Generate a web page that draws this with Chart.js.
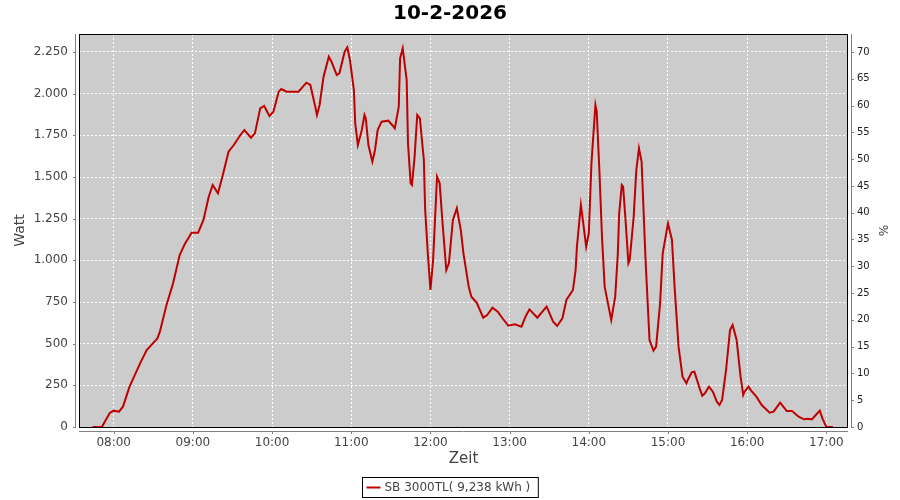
<!DOCTYPE html>
<html>
<head>
<meta charset="utf-8">
<script src="https://cdn.jsdelivr.net/npm/chart.js@4/dist/chart.umd.min.js"></script>
<style>
  body { margin: 0; background: #fff; }
  #wrap { width: 900px; height: 500px; }
</style>
</head>
<body>
<div id="wrap"><canvas id="myChart"></canvas></div>
<script>
var chartTitle = '10-2-2026';
var seriesLabel = 'SB 3000TL( 9,238 kWh )';

var times = ['07:44','07:51','07:57','08:00','08:04','08:07','08:12','08:20','08:25','08:30',
  '08:33','08:35','08:40','08:45','08:50','08:54','08:59','09:04','09:08','09:12',
  '09:15','09:19','09:23','09:27','09:31','09:36','09:39','09:44','09:47','09:51',
  '09:54','09:58','10:01','10:05','10:07','10:11','10:20','10:26','10:29','10:33',
  '10:34','10:36','10:39','10:43','10:45','10:49','10:51','10:55','10:57','10:59',
  '11:02','11:03','11:05','11:08','11:10','11:11','11:13','11:16','11:18','11:20',
  '11:23','11:28','11:31','11:33','11:36','11:37','11:39','11:42','11:43','11:45',
  '11:46','11:48','11:50','11:52','11:55','11:56','11:58','12:00','12:02','12:05',
  '12:07','12:09','12:12','12:14','12:17','12:20','12:23','12:25','12:29','12:31',
  '12:35','12:40','12:43','12:47','12:51','12:55','12:59','13:04','13:09','13:12',
  '13:15','13:21','13:28','13:33','13:36','13:40','13:43','13:48','13:50','13:51',
  '13:54','13:55','13:58','14:00','14:02','14:05','14:06','14:08','14:10','14:12',
  '14:15','14:17','14:20','14:22','14:23','14:25','14:26','14:28','14:30','14:31',
  '14:34','14:36','14:38','14:40','14:43','14:46','14:49','14:51','14:54','14:56',
  '15:00','15:03','15:05','15:08','15:11','15:14','15:15','15:18','15:20','15:24',
  '15:26','15:28','15:31','15:34','15:37','15:39','15:41','15:44','15:47','15:49',
  '15:52','15:55','15:57','15:58','16:01','16:03','16:07','16:11','16:17','16:20',
  '16:25','16:30','16:34','16:39','16:43','16:46','16:49','16:52','16:55','16:57',
  '17:00','17:05'];

var watts = [0,0,84,98,92,122,242,382,462,505,
  530,572,732,862,1032,1100,1166,1166,1242,1382,
  1452,1402,1522,1652,1692,1752,1782,1736,1762,1912,
  1926,1866,1892,2012,2028,2012,2012,2066,2052,1912,
  1872,1932,2102,2222,2192,2112,2122,2252,2278,2202,
  2022,1822,1692,1782,1872,1852,1692,1592,1662,1782,
  1832,1838,1812,1792,1922,2212,2272,2082,1702,1462,
  1452,1622,1872,1852,1602,1302,1042,822,1000,1502,
  1462,1242,942,982,1242,1312,1182,1042,842,782,
  746,656,672,716,692,648,608,616,602,662,
  706,656,722,632,606,652,762,822,942,1082,
  1332,1272,1082,1162,1582,1932,1892,1542,1142,842,
  722,642,782,1042,1282,1452,1442,1222,982,1002,
  1262,1542,1672,1592,1002,522,458,482,742,1042,
  1222,1122,842,482,302,262,282,328,332,232,
  188,202,242,212,152,132,162,342,582,612,
  522,302,192,212,242,218,182,132,86,92,
  146,96,96,62,46,50,46,72,98,52,
  0,0];

// axis ranges (minutes of the day / watt / percent)
var xMin = 453.7, xMax = 1036.4;
var wattMax = 2358;
var pctMax = 2358 / 2250 * 70;

function toMin(s) {
  var p = s.split(':');
  return parseInt(p[0], 10) * 60 + parseInt(p[1], 10);
}
function fmtTime(v) {
  var h = Math.floor(v / 60), m = Math.round(v % 60);
  return (h < 10 ? '0' : '') + h + ':' + (m < 10 ? '0' : '') + m;
}
function fmtDe(v) {
  return String(v).replace(/\B(?=(\d{3})+(?!\d))/g, '.');
}

var points = times.map(function (t, i) { return { x: toMin(t), y: watts[i] }; });
var lineColor = '#bf0000';

var plotDecor = {
  id: 'plotDecor',
  beforeDraw: function (chart) {
    var a = chart.chartArea, c = chart.ctx;
    c.save();
    c.fillStyle = '#cccccc';
    c.fillRect(a.left, a.top, a.right - a.left, a.bottom - a.top);
    c.restore();
  },
  afterDraw: function (chart) {
    var a = chart.chartArea, c = chart.ctx;
    c.save();
    // plot outline
    c.strokeStyle = '#000';
    c.lineWidth = 1;
    c.strokeRect(a.left + 0.5, a.top + 0.5, a.right - a.left - 1, a.bottom - a.top);
    // offset axis lines
    c.strokeStyle = '#808080';
    c.beginPath();
    c.moveTo(a.left - 3.5, a.top); c.lineTo(a.left - 3.5, a.bottom + 1);
    c.moveTo(a.left, a.bottom + 4.5); c.lineTo(a.right, a.bottom + 4.5);
    c.moveTo(a.right + 3.5, a.top); c.lineTo(a.right + 3.5, a.bottom + 1);
    var sy = chart.scales.y, sx = chart.scales.x, sp = chart.scales.y1;
    sy.ticks.forEach(function (t) {
      var p = Math.round(sy.getPixelForValue(t.value)) + 0.5;
      c.moveTo(a.left - 3.5, p); c.lineTo(a.left - 6, p);
    });
    sp.ticks.forEach(function (t) {
      var p = Math.round(sp.getPixelForValue(t.value)) + 0.5;
      c.moveTo(a.right + 3.5, p); c.lineTo(a.right + 6, p);
    });
    sx.ticks.forEach(function (t) {
      var p = Math.round(sx.getPixelForValue(t.value)) + 0.5;
      c.moveTo(p, a.bottom + 4.5); c.lineTo(p, a.bottom + 7);
    });
    c.stroke();
    // legend box
    c.font = '12px "DejaVu Sans"';
    var tw = c.measureText(seriesLabel).width;
    var bw = tw + 30, bx = Math.round(450 - bw / 2) + 0.5, by = 477.5;
    c.strokeStyle = '#000';
    c.strokeRect(bx, by, bw, 20);
    c.strokeStyle = lineColor;
    c.lineWidth = 2;
    c.beginPath();
    c.moveTo(bx + 4, by + 10); c.lineTo(bx + 18, by + 10);
    c.stroke();
    c.fillStyle = '#444';
    c.textBaseline = 'middle';
    c.fillText(seriesLabel, bx + 22, by + 10.5);
    c.restore();
  }
};

var ctx = document.getElementById('myChart').getContext('2d');
var myChart = new Chart(ctx, {
  type: 'line',
  data: {
    datasets: [{
      label: seriesLabel,
      data: points,
      borderColor: lineColor,
      backgroundColor: lineColor,
      borderWidth: 2,
      pointRadius: 0,
      tension: 0,
      yAxisID: 'y'
    }]
  },
  options: {
    responsive: true,
    maintainAspectRatio: false,
    animation: false,
    layout: { padding: 0 },
    plugins: {
      legend: { display: false },
      tooltip: { enabled: false },
      title: {
        display: true,
        text: chartTitle,
        color: '#000',
        font: { family: 'DejaVu Sans', size: 20, weight: 'bold', lineHeight: 1.2 },
        padding: { top: 2, bottom: 8 }
      }
    },
    scales: {
      x: {
        type: 'linear',
        min: xMin,
        max: xMax,
        afterFit: function (s) { s.height = 73; },
        grid: { color: '#ffffff', lineWidth: 1, drawTicks: false },
        border: { display: false, dash: [2, 2] },
        ticks: {
          stepSize: 60,
          includeBounds: false,
          padding: 9,
          color: '#444',
          maxRotation: 0,
          font: { family: 'DejaVu Sans', size: 12 },
          callback: function (v) { return fmtTime(v); }
        },
        title: {
          display: true,
          text: 'Zeit',
          color: '#444',
          font: { family: 'DejaVu Sans', size: 15 },
          padding: { top: 4, bottom: 32 }
        }
      },
      y: {
        position: 'left',
        min: 0,
        max: wattMax,
        afterFit: function (s) { s.width = 79; },
        grid: { color: '#ffffff', lineWidth: 1, drawTicks: false },
        border: { display: false, dash: [2, 2] },
        ticks: {
          stepSize: 250,
          includeBounds: false,
          padding: 11,
          color: '#444',
          font: { family: 'DejaVu Sans', size: 12 },
          callback: function (v) { return fmtDe(v); }
        },
        title: {
          display: true,
          text: 'Watt',
          color: '#444',
          font: { family: 'DejaVu Sans', size: 14 },
          padding: { top: 12, bottom: 0 }
        }
      },
      y1: {
        position: 'right',
        min: 0,
        max: pctMax,
        afterFit: function (s) { s.width = 52; },
        grid: { drawOnChartArea: false, drawTicks: false },
        border: { display: false },
        ticks: {
          stepSize: 5,
          includeBounds: false,
          padding: 9,
          color: '#222',
          font: { family: 'DejaVu Sans', size: 10 }
        },
        title: {
          display: true,
          text: '%',
          color: '#444',
          font: { family: 'DejaVu Sans', size: 12 },
          padding: { top: 11, bottom: 0 }
        }
      }
    }
  },
  plugins: [plotDecor]
});
</script>
</body>
</html>
